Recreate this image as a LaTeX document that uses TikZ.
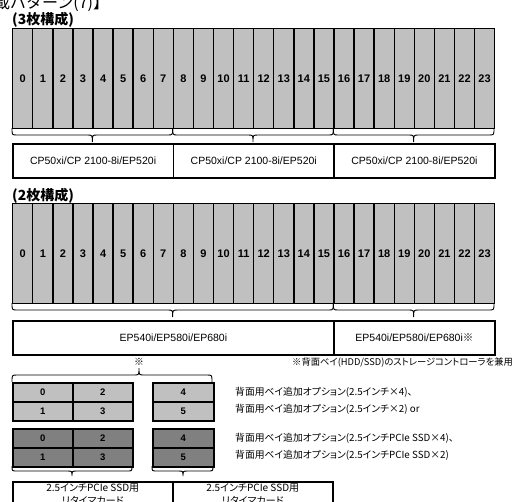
\documentclass[tikz,border=0pt]{standalone}
\usepackage{fontspec}
\setmainfont{Liberation Sans}
\newfontfamily\jp{Noto Sans CJK JP}[RawFeature=+palt]
\newfontfamily\jpw{Noto Sans CJK JP}
\definecolor{lg}{HTML}{C0C0C0}
\definecolor{dg}{HTML}{808080}
\newcommand\mybrace[5]{%
  \draw[brc] ({#1},{#4}) .. controls ({#1},{#4+(#5)/2}) .. ({#1+5},{#4+(#5)/2})
    -- ({#3-5},{#4+(#5)/2}) .. controls ({#3},{#4+(#5)/2}) .. ({#3},{#4+(#5)})
    .. controls ({#3},{#4+(#5)/2}) .. ({#3+5},{#4+(#5)/2})
    -- ({#2-5},{#4+(#5)/2}) .. controls ({#2},{#4+(#5)/2}) .. ({#2},{#4});}
\begin{document}
\begin{tikzpicture}[x=1pt,y=-1pt,
  slot/.style={draw=black,fill=lg,line width=1.4pt,minimum width=20.08pt,minimum height=100pt,
    inner sep=0pt,anchor=north west,font=\bfseries\fontsize{11}{12}\selectfont},
  box/.style={draw=black,line width=1.5pt,minimum height=34pt,minimum width=160.67pt,
    inner sep=0pt,anchor=north west,font=\fontsize{10.5}{12}\selectfont},
  sbox/.style={draw=black,line width=1.5pt,minimum width=60pt,minimum height=19pt,
    inner sep=0pt,anchor=north west,font=\bfseries\fontsize{9.5}{10}\selectfont},
  bbox/.style={draw=black,line width=1.5pt,minimum width=160pt,minimum height=45pt,
    inner sep=0pt,anchor=north west},
  jtxt/.style={font=\jp\fontsize{9.8}{13}\selectfont,inner sep=0pt},
  head/.style={font=\jpw\bfseries\fontsize{14}{15}\selectfont,inner sep=0pt,anchor=west},
  brc/.style={draw=black,line width=0.9pt}]
\useasboundingbox (0,0) rectangle (513,501);
\clip (0,0) rectangle (513,501);
% title (cut off)
\node[font=\jpw\fontsize{16}{17}\selectfont,inner sep=0pt,anchor=base west] (title) at (-6,8) {載パターン(7)】};
% section 1
\node[head] (h1) at (12,20) {(3枚構成)};
\foreach \i in {0,...,23} {\node[slot] (a\i) at ({12+\i*20.08},28) {\i};}
\mybrace{12}{172.67}{92.33}{128}{14}
\mybrace{172.67}{333.33}{253}{128}{14}
\mybrace{333.33}{494}{413.67}{128}{14}
\node[box] (b1) at (12,143) {CP50xi/CP 2100-8i/EP520i};
\node[box] (b2) at (172.67,143) {CP50xi/CP 2100-8i/EP520i};
\node[box] (b3) at (333.33,143) {CP50xi/CP 2100-8i/EP520i};
% section 2
\node[head] (h2) at (12,196) {(2枚構成)};
\foreach \i in {0,...,23} {\node[slot] (c\i) at ({12+\i*20.08},203) {\i};}
\mybrace{12}{333.33}{172.67}{303}{14}
\mybrace{333.33}{494}{413.67}{303}{14}
\node[box,minimum width=321.33pt] (d1) at (12,320) {EP540i/EP580i/EP680i};
\node[box] (d2) at (333.33,320) {EP540i/EP580i/EP680i\jp ※};
% section 3
\node[jtxt] (mark) at (139,362) {※};
\node[jtxt,font=\jp\fontsize{9.3}{12}\selectfont,anchor=west] (note) at (292,362) {※背面ベイ(HDD/SSD)のストレージコントローラを兼用};
\mybrace{12}{212}{139}{382}{-14}
\node[sbox,fill=lg] (l0) at (12,382) {0};
\node[sbox,fill=lg] (l2) at (72,382) {2};
\node[sbox,fill=lg] (l1) at (12,401) {1};
\node[sbox,fill=lg] (l3) at (72,401) {3};
\node[sbox,fill=lg,minimum width=61pt] (l4) at (152,382) {4};
\node[sbox,fill=lg,minimum width=61pt] (l5) at (152,401) {5};
\node[sbox,fill=dg] (k0) at (12,428) {0};
\node[sbox,fill=dg] (k2) at (72,428) {2};
\node[sbox,fill=dg] (k1) at (12,447) {1};
\node[sbox,fill=dg] (k3) at (72,447) {3};
\node[sbox,fill=dg,minimum width=61pt] (k4) at (152,428) {4};
\node[sbox,fill=dg,minimum width=61pt] (k5) at (152,447) {5};
\node[jtxt,anchor=west] (t1) at (235,392) {背面用ベイ追加オプション(2.5インチ×4)、};
\node[jtxt,anchor=west] (t2) at (235,409) {背面用ベイ追加オプション(2.5インチ×2) or};
\node[jtxt,anchor=west] (t3) at (235,438) {背面用ベイ追加オプション(2.5インチPCIe SSD×4)、};
\node[jtxt,anchor=west] (t4) at (235,455) {背面用ベイ追加オプション(2.5インチPCIe SSD×2)};
\mybrace{12}{132}{72}{466}{10}
\mybrace{152}{213}{183}{466}{10}
\node[bbox] (e1) at (12,481) {};
\node[bbox] (e2) at (172,481) {};
\node[jtxt,font=\jp\fontsize{10}{13}\selectfont,anchor=north,align=center] (e1t) at ([yshift=-2pt]e1.north) {2.5インチPCIe SSD用\\リタイマカード};
\node[jtxt,font=\jp\fontsize{10}{13}\selectfont,anchor=north,align=center] (e2t) at ([yshift=-2pt]e2.north) {2.5インチPCIe SSD用\\リタイマカード};
\end{tikzpicture}
\end{document}
